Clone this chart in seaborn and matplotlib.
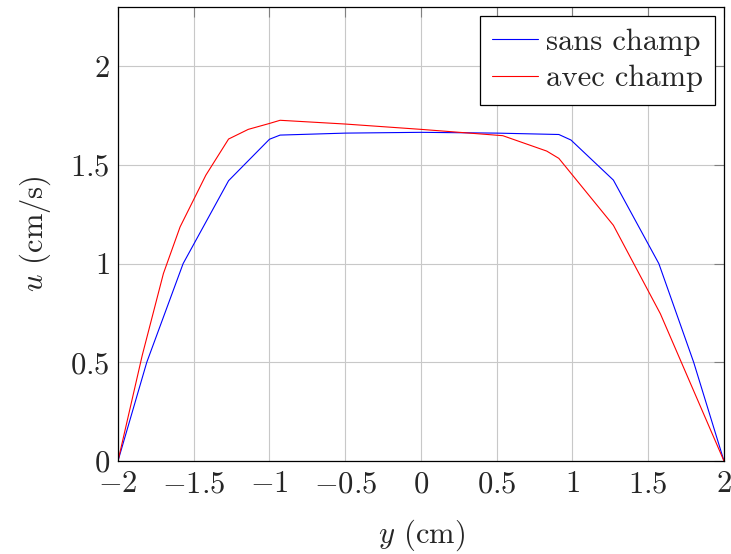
import numpy as np
import pandas as pd
import matplotlib
matplotlib.use('Agg')
import matplotlib.pyplot as plt
from matplotlib.ticker import FuncFormatter
import seaborn as sns

# velocity profiles
y_sans = [-2.0, -1.81, -1.57, -1.27, -1.0, -0.93, -0.5, 0.0, 0.5, 0.91, 0.99, 1.27, 1.57, 1.80, 2.0]
u_sans = [0.0, 0.50, 1.00, 1.42, 1.63, 1.651, 1.661, 1.665, 1.661, 1.654, 1.626, 1.423, 1.0, 0.50, 0.0]

y_avec = [-2.0, -1.84, -1.70, -1.59, -1.42, -1.27, -1.14, -1.0, -0.93, -0.5, 0.0, 0.54, 0.83, 0.91, 1.27, 1.58, 2.0]
u_avec = [0.0, 0.535, 0.95, 1.186, 1.448, 1.631, 1.68, 1.71, 1.726, 1.707, 1.68, 1.648, 1.57, 1.533, 1.194, 0.746, 0.0]

labels = ['sans champ', 'avec champ']
colors = ['blue', 'red']

x_ticks = [-2, -1.5, -1, -0.5, 0, 0.5, 1, 1.5, 2]
y_ticks = [0, 0.5, 1, 1.5, 2]

sns.set_style('white')
plt.rcParams['font.family'] = 'serif'
plt.rcParams['font.serif'] = ['cmr10', 'DejaVu Serif']
plt.rcParams['mathtext.fontset'] = 'cm'
plt.rcParams['axes.unicode_minus'] = False

df = pd.concat([
    pd.DataFrame({'y': y_sans, 'u': u_sans, 'cas': labels[0]}),
    pd.DataFrame({'y': y_avec, 'u': u_avec, 'cas': labels[1]}),
])

fig = plt.figure(figsize=(7.31, 5.54), dpi=100)
ax = fig.add_axes([0.1614, 0.1679, 0.829, 0.8195])

sns.lineplot(data=df, x='y', y='u', hue='cas', palette=colors, sort=False,
             linewidth=0.8, ax=ax, estimator=None)

fs = 22
ax.set_xlim(-2, 2)
ax.set_ylim(0, 2.3)
ax.set_xticks(x_ticks)
ax.set_yticks(y_ticks)
fmt = FuncFormatter(lambda v, p: f'${v:g}$')
ax.xaxis.set_major_formatter(fmt)
ax.yaxis.set_major_formatter(fmt)
ax.tick_params(direction='in', length=7, width=0.8, color='#808080',
               labelsize=fs, top=True, right=True)
ax.tick_params(axis='x', pad=7)
ax.tick_params(axis='y', pad=6)
ax.grid(True, color='#c8c8c8', linewidth=0.8)
for s in ax.spines.values():
    s.set_color('black')
    s.set_linewidth(0.9)

ax.set_xlabel('$y$ (cm)', fontsize=fs, labelpad=14)
ax.set_ylabel('$u$ (cm/s)', fontsize=fs, labelpad=12)

leg = ax.legend(loc='upper right', fontsize=fs, fancybox=False, framealpha=1,
                edgecolor='black', handlelength=1.5, borderpad=0.4,
                labelspacing=0.3, handletextpad=0.25, borderaxespad=0.3)
leg.get_frame().set_linewidth(0.9)

fig.savefig('out.png', dpi=100)
